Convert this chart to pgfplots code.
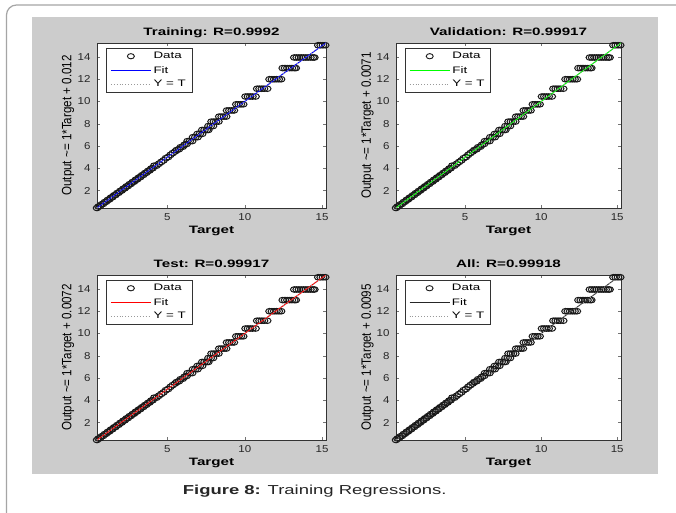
\documentclass[border=0pt]{standalone}
\usepackage{fontspec}
\setmainfont{Liberation Sans}
\newfontfamily\wf[FakeStretch=1.42]{Liberation Sans}
\newfontfamily\tf[FakeStretch=1.15]{Liberation Sans}
\newfontfamily\cf[FakeStretch=0.86]{Liberation Sans}
\usepackage{pgfplots}
\usepackage{pgfplotstable}
\pgfplotsset{compat=1.18}
\definecolor{mgray}{RGB}{204,204,204}
\definecolor{bordergray}{RGB}{165,165,165}

\pgfplotstableread{
x y
0.45 0.45
0.55 0.58
0.65 0.62
0.75 0.78
0.85 0.82
0.95 0.98
1.05 1.02
1.15 1.18
1.25 1.22
1.35 1.38
1.45 1.42
1.55 1.58
1.65 1.62
1.75 1.78
1.85 1.82
1.95 1.98
2.05 2.02
2.15 2.18
2.25 2.22
2.35 2.38
2.45 2.42
2.55 2.58
2.65 2.62
2.75 2.78
2.85 2.82
2.95 2.98
3.05 3.02
3.15 3.18
3.25 3.22
3.35 3.38
3.45 3.42
3.55 3.58
3.65 3.62
3.75 3.78
3.85 3.82
3.95 3.98
4.05 4.02
4.15 4.25
4.30 4.25
4.45 4.42
4.60 4.58
4.75 4.72
4.90 4.92
5.05 5.02
5.20 5.22
5.35 5.38
5.50 5.52
5.60 5.65
5.75 5.72
5.85 5.90
6.00 5.95
6.10 6.12
6.25 6.20
6.30 6.45
6.45 6.45
6.60 6.45
6.65 6.80
6.80 6.80
6.95 6.80
6.95 7.10
7.10 7.10
7.25 7.10
7.25 7.45
7.40 7.45
7.55 7.45
7.65 7.45
7.65 7.80
7.80 7.80
7.95 7.80
7.85 8.20
8.00 8.20
8.15 8.20
8.30 8.20
8.35 8.65
8.50 8.65
8.65 8.65
8.80 8.65
8.85 9.20
9.00 9.20
9.15 9.20
9.30 9.20
9.45 9.75
9.60 9.75
9.75 9.75
9.90 9.75
10.05 10.45
10.20 10.45
10.35 10.45
10.50 10.45
10.70 10.45
10.80 11.15
10.95 11.15
11.10 11.15
11.25 11.15
11.45 11.15
11.60 12.00
11.75 12.00
11.90 12.00
12.05 12.00
12.20 12.00
12.35 12.00
12.45 13.00
12.60 13.00
12.75 13.00
12.90 13.00
13.05 13.00
13.20 13.00
13.30 13.00
13.20 13.95
13.35 13.95
13.50 13.95
13.65 13.95
13.80 13.95
13.95 13.95
14.10 13.95
14.25 13.95
14.40 13.95
14.50 13.95
14.75 15.05
14.90 15.05
15.05 15.05
15.20 15.05
}\datatab

\pgfplotsset{
  regstyle/.style={
    scale only axis, height=165pt,
    clip mode=individual,
    xmin=0.45, xmax=15.25, ymin=0.45, ymax=15.25,
    xtick={5,10,15}, ytick={2,4,6,8,10,12,14},
    tick align=inside, major tick length=3pt,
    tick style={black!55, line width=0.5pt},
    axis line style={black!80, line width=0.7pt},
    axis background/.style={fill=white},
    /pgf/number format/assume math mode=true,
    ticklabel style={font=\tf\fontsize{10}{11}\selectfont, text=black!85},
    xticklabel style={anchor=base, yshift=-12pt},
    yticklabel style={anchor=east, xshift=-3pt},
    extra description/.code={
      \node[anchor=base, font=\wf\bfseries\fontsize{10.7}{12}\selectfont, inner sep=0pt]
        at (0.5,1) [yshift=7.5pt] {#1};},
    xlabel={Target},
    xlabel style={at={(axis description cs:0.5,0)}, anchor=base, yshift=-25pt,
      font=\wf\bfseries\fontsize{10.7}{12}\selectfont},
    ylabel style={at={(axis description cs:-0.126,0.5)}, anchor=center,
      font=\cf\fontsize{13.5}{14}\selectfont},
    legend cell align=left,
    legend style={at={(axis description cs:0.039,0.97)}, anchor=north west,
      draw=black!80, fill=white, line width=0.6pt,
      font=\wf\fontsize{9.4}{10}\selectfont,
      inner xsep=4pt, inner ysep=2pt, row sep=2pt},
  },
  datastyle/.style={only marks, mark=o, mark size=2.8pt, black,
    mark options={xscale=1.35, line width=1pt, draw=black!90},
    legend image code/.code={\draw[mark=o, mark size=2.6pt, mark options={xscale=1.35, line width=0.9pt, draw=black!90}] plot coordinates {(20pt,0pt)};}},
  ytstyle/.style={black!40, dotted, line width=0.9pt,
    legend image code/.code={\draw[black!40, dotted, line width=0.9pt] (0pt,0pt) -- (40pt,0pt);}},
}

\begin{document}
\begin{tikzpicture}
\useasboundingbox (0pt,0pt) rectangle (676pt,512pt);
\fill[white] (0pt,0pt) rectangle (676pt,512pt);
\draw[line width=1.2pt, bordergray] (6.5pt,-3pt) -- (6.5pt,497pt)
  arc[start angle=180, end angle=90, radius=10pt] -- (680pt,507pt);
\fill[mgray] (32pt,38pt) rectangle (658pt,495pt);

% Training
\begin{axis}[regstyle={Training: R=0.9992}, width=229pt, at={(97pt,304pt)}, anchor=south west,
  ylabel={Output \textasciitilde= 1*Target + 0.012}]
\addplot[datastyle] table {\datatab};
\addlegendentry{Data}
\addplot[blue, line width=1pt, legend image code/.code={\draw[blue, line width=1.3pt] (0pt,0pt) -- (40pt,0pt);}] coordinates {(0.45,0.462) (15.25,15.262)};
\addlegendentry{Fit}
\addplot[ytstyle] coordinates {(0.45,0.45) (15.25,15.25)};
\addlegendentry{Y = T}
\end{axis}

% Validation
\begin{axis}[regstyle={Validation: R=0.99917}, width=225pt, at={(396pt,304pt)}, anchor=south west,
  ylabel={Output \textasciitilde= 1*Target + 0.0071}]
\addplot[datastyle] table {\datatab};
\addlegendentry{Data}
\addplot[green, line width=1pt, legend image code/.code={\draw[green, line width=1.3pt] (0pt,0pt) -- (40pt,0pt);}] coordinates {(0.45,0.4571) (15.25,15.2571)};
\addlegendentry{Fit}
\addplot[ytstyle] coordinates {(0.45,0.45) (15.25,15.25)};
\addlegendentry{Y = T}
\end{axis}

% Test
\begin{axis}[regstyle={Test: R=0.99917}, width=229pt, at={(97pt,72pt)}, anchor=south west,
  ylabel={Output \textasciitilde= 1*Target + 0.0072}]
\addplot[datastyle] table {\datatab};
\addlegendentry{Data}
\addplot[red, line width=1pt, legend image code/.code={\draw[red, line width=1.3pt] (0pt,0pt) -- (40pt,0pt);}] coordinates {(0.45,0.4572) (15.25,15.2572)};
\addlegendentry{Fit}
\addplot[ytstyle] coordinates {(0.45,0.45) (15.25,15.25)};
\addlegendentry{Y = T}
\end{axis}

% All
\begin{axis}[regstyle={All: R=0.99918}, width=225pt, at={(396pt,72pt)}, anchor=south west,
  ylabel={Output \textasciitilde= 1*Target + 0.0095}]
\addplot[datastyle] table {\datatab};
\addlegendentry{Data}
\addplot[black!85, line width=0.8pt, legend image code/.code={\draw[black!85, line width=0.8pt] (0pt,0pt) -- (40pt,0pt);}] coordinates {(0.45,0.4595) (15.25,15.2595)};
\addlegendentry{Fit}
\addplot[ytstyle] coordinates {(0.45,0.45) (15.25,15.25)};
\addlegendentry{Y = T}
\end{axis}

\node[font=\wf\fontsize{13}{15}\selectfont, text=black!85] at (314.7pt,21pt)
  {\textbf{Figure 8:} Training Regressions.};
\end{tikzpicture}
\end{document}
